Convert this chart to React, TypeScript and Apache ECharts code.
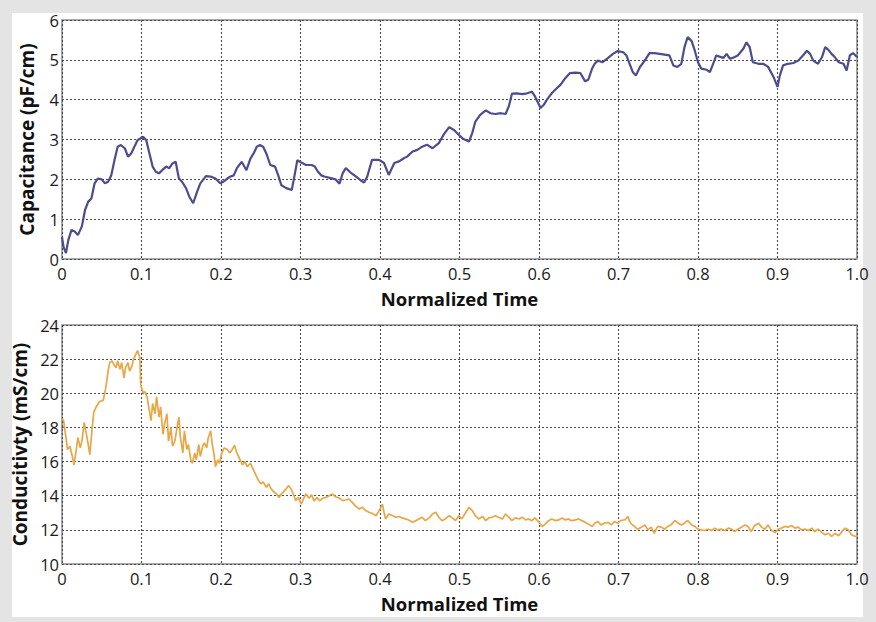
import React, { useEffect, useRef } from "react";
import * as echarts from "echarts";

const capTime = [0, 0.002, 0.005, 0.008, 0.012, 0.016, 0.02, 0.025, 0.029, 0.033, 0.037, 0.041, 0.045, 0.05, 0.054, 0.058, 0.062, 0.066, 0.07, 0.074, 0.079, 0.083, 0.087, 0.091, 0.095, 0.102, 0.106, 0.11, 0.114, 0.118, 0.122, 0.126, 0.131, 0.135, 0.139, 0.143, 0.147, 0.151, 0.156, 0.16, 0.165, 0.17, 0.174, 0.181, 0.187, 0.193, 0.199, 0.203, 0.208, 0.212, 0.216, 0.22, 0.226, 0.232, 0.237, 0.241, 0.245, 0.249, 0.253, 0.257, 0.262, 0.268, 0.272, 0.276, 0.282, 0.289, 0.293, 0.296, 0.301, 0.307, 0.314, 0.318, 0.322, 0.326, 0.33, 0.338, 0.344, 0.349, 0.353, 0.357, 0.363, 0.37, 0.376, 0.38, 0.384, 0.39, 0.399, 0.405, 0.411, 0.418, 0.424, 0.43, 0.434, 0.441, 0.447, 0.453, 0.459, 0.466, 0.474, 0.48, 0.487, 0.493, 0.499, 0.505, 0.512, 0.516, 0.52, 0.526, 0.533, 0.539, 0.545, 0.552, 0.558, 0.562, 0.566, 0.572, 0.579, 0.585, 0.591, 0.595, 0.602, 0.606, 0.61, 0.616, 0.621, 0.627, 0.633, 0.639, 0.646, 0.652, 0.658, 0.662, 0.667, 0.67, 0.674, 0.68, 0.687, 0.693, 0.699, 0.706, 0.71, 0.714, 0.718, 0.722, 0.727, 0.733, 0.739, 0.745, 0.752, 0.758, 0.764, 0.769, 0.774, 0.779, 0.783, 0.787, 0.792, 0.796, 0.8, 0.804, 0.811, 0.815, 0.819, 0.823, 0.827, 0.832, 0.836, 0.84, 0.844, 0.85, 0.857, 0.861, 0.865, 0.869, 0.876, 0.882, 0.888, 0.895, 0.9, 0.903, 0.907, 0.913, 0.92, 0.926, 0.932, 0.937, 0.941, 0.945, 0.951, 0.956, 0.96, 0.964, 0.968, 0.972, 0.977, 0.983, 0.987, 0.991, 0.995, 1.0];
const capValue = [0.55, 0.3, 0.15, 0.48, 0.73, 0.69, 0.6, 0.82, 1.23, 1.44, 1.52, 1.9, 2.02, 2.0, 1.9, 1.94, 2.1, 2.48, 2.82, 2.86, 2.78, 2.57, 2.65, 2.82, 2.98, 3.07, 2.98, 2.65, 2.32, 2.19, 2.15, 2.23, 2.32, 2.28, 2.4, 2.44, 2.02, 1.94, 1.78, 1.57, 1.4, 1.69, 1.9, 2.08, 2.07, 2.02, 1.9, 1.94, 2.02, 2.07, 2.1, 2.28, 2.44, 2.23, 2.52, 2.65, 2.82, 2.86, 2.82, 2.65, 2.36, 2.32, 2.1, 1.85, 1.78, 1.73, 2.15, 2.48, 2.42, 2.36, 2.36, 2.32, 2.19, 2.1, 2.07, 2.03, 2.0, 1.89, 2.15, 2.28, 2.17, 2.07, 1.97, 1.92, 2.07, 2.49, 2.49, 2.41, 2.11, 2.41, 2.45, 2.53, 2.57, 2.7, 2.74, 2.82, 2.87, 2.78, 2.91, 3.12, 3.31, 3.24, 3.12, 3.01, 2.95, 3.16, 3.45, 3.62, 3.73, 3.66, 3.64, 3.66, 3.64, 3.83, 4.15, 4.16, 4.14, 4.16, 4.2, 4.08, 3.79, 3.87, 4.0, 4.16, 4.26, 4.37, 4.54, 4.67, 4.68, 4.67, 4.46, 4.5, 4.79, 4.9, 4.98, 4.94, 5.05, 5.15, 5.22, 5.19, 5.11, 4.9, 4.69, 4.61, 4.82, 4.98, 5.17, 5.17, 5.15, 5.13, 5.11, 4.86, 4.82, 4.9, 5.32, 5.57, 5.47, 5.23, 4.94, 4.78, 4.75, 4.69, 4.9, 5.11, 5.08, 5.05, 5.15, 5.03, 5.05, 5.11, 5.28, 5.44, 5.32, 4.94, 4.9, 4.9, 4.83, 4.57, 4.32, 4.61, 4.86, 4.9, 4.92, 4.98, 5.11, 5.23, 5.15, 4.98, 4.9, 5.07, 5.32, 5.25, 5.15, 5.07, 4.94, 4.9, 4.73, 5.11, 5.17, 5.07];

const condTime = [0, 0.002, 0.005, 0.007, 0.01, 0.013, 0.015, 0.018, 0.02, 0.023, 0.025, 0.028, 0.03, 0.033, 0.035, 0.038, 0.04, 0.043, 0.047, 0.052, 0.055, 0.058, 0.06, 0.063, 0.065, 0.068, 0.07, 0.073, 0.075, 0.078, 0.08, 0.083, 0.085, 0.088, 0.09, 0.093, 0.095, 0.098, 0.099, 0.102, 0.104, 0.107, 0.109, 0.112, 0.114, 0.117, 0.119, 0.122, 0.124, 0.127, 0.129, 0.132, 0.134, 0.137, 0.139, 0.142, 0.144, 0.147, 0.149, 0.152, 0.154, 0.157, 0.159, 0.162, 0.164, 0.167, 0.169, 0.172, 0.174, 0.177, 0.179, 0.182, 0.184, 0.187, 0.189, 0.191, 0.193, 0.196, 0.198, 0.201, 0.204, 0.208, 0.211, 0.214, 0.217, 0.22, 0.223, 0.227, 0.23, 0.233, 0.237, 0.24, 0.243, 0.247, 0.25, 0.253, 0.257, 0.26, 0.263, 0.267, 0.27, 0.273, 0.276, 0.278, 0.282, 0.285, 0.288, 0.291, 0.294, 0.297, 0.301, 0.304, 0.307, 0.311, 0.314, 0.317, 0.321, 0.324, 0.328, 0.332, 0.336, 0.34, 0.344, 0.349, 0.353, 0.357, 0.361, 0.365, 0.37, 0.374, 0.378, 0.382, 0.386, 0.39, 0.395, 0.399, 0.403, 0.405, 0.407, 0.411, 0.416, 0.42, 0.424, 0.428, 0.432, 0.436, 0.441, 0.445, 0.449, 0.453, 0.457, 0.462, 0.466, 0.47, 0.474, 0.478, 0.482, 0.487, 0.491, 0.495, 0.499, 0.503, 0.508, 0.512, 0.516, 0.52, 0.524, 0.529, 0.533, 0.537, 0.541, 0.545, 0.549, 0.554, 0.558, 0.562, 0.566, 0.57, 0.575, 0.579, 0.583, 0.587, 0.591, 0.595, 0.6, 0.604, 0.608, 0.612, 0.616, 0.621, 0.625, 0.629, 0.633, 0.637, 0.641, 0.646, 0.65, 0.654, 0.658, 0.662, 0.667, 0.67, 0.674, 0.678, 0.682, 0.687, 0.691, 0.695, 0.699, 0.703, 0.708, 0.712, 0.714, 0.716, 0.72, 0.724, 0.729, 0.733, 0.737, 0.741, 0.745, 0.748, 0.75, 0.754, 0.758, 0.762, 0.766, 0.771, 0.775, 0.779, 0.783, 0.787, 0.792, 0.796, 0.8, 0.804, 0.808, 0.813, 0.817, 0.821, 0.825, 0.829, 0.834, 0.838, 0.842, 0.846, 0.85, 0.855, 0.859, 0.863, 0.867, 0.871, 0.876, 0.88, 0.884, 0.888, 0.892, 0.897, 0.901, 0.905, 0.909, 0.913, 0.918, 0.922, 0.926, 0.93, 0.935, 0.939, 0.943, 0.947, 0.951, 0.956, 0.96, 0.964, 0.968, 0.972, 0.977, 0.981, 0.985, 0.989, 0.993, 0.998, 1.0];
const condValue = [18.5, 18.4, 17.4, 16.7, 16.9, 16.3, 15.8, 16.7, 17.4, 16.8, 17.2, 18.3, 17.8, 17.0, 16.4, 18.0, 18.9, 19.2, 19.5, 19.6, 20.3, 21.3, 21.8, 21.9, 21.7, 21.5, 21.9, 21.4, 21.8, 20.9, 21.5, 21.8, 21.3, 21.6, 22.0, 22.3, 22.5, 22.1, 20.5, 20.0, 20.1, 19.8, 19.2, 18.4, 19.4, 18.8, 19.8, 18.6, 19.2, 17.6, 18.2, 18.8, 17.2, 18.0, 16.9, 17.2, 17.8, 18.6, 17.4, 16.5, 17.8, 16.7, 17.0, 16.1, 15.9, 16.5, 16.1, 17.0, 16.3, 16.9, 17.1, 16.8, 17.4, 17.8, 17.0, 16.5, 15.7, 16.1, 15.9, 16.5, 16.8, 16.7, 16.5, 16.7, 16.95, 16.5, 16.2, 15.8, 16.0, 15.7, 15.9, 15.6, 15.3, 14.9, 14.7, 14.8, 14.5, 14.7, 14.4, 14.2, 14.1, 13.9, 14.1, 14.2, 14.4, 14.6, 14.4, 14.1, 13.7, 13.9, 13.5, 13.85, 14.1, 13.85, 14.05, 13.7, 13.9, 13.7, 13.85, 13.9, 14.0, 14.1, 13.94, 13.86, 13.71, 13.75, 13.81, 13.61, 13.36, 13.22, 13.32, 13.13, 13.03, 12.97, 12.83, 13.13, 13.51, 13.03, 12.64, 12.93, 12.83, 12.74, 12.78, 12.7, 12.64, 12.58, 12.45, 12.54, 12.64, 12.74, 12.54, 12.7, 12.93, 13.03, 12.74, 12.54, 12.64, 12.83, 12.7, 12.54, 12.83, 12.64, 13.03, 13.32, 13.13, 12.83, 12.64, 12.78, 12.54, 12.7, 12.74, 12.83, 12.74, 12.64, 12.93, 12.74, 12.54, 12.7, 12.64, 12.74, 12.58, 12.64, 12.54, 12.7, 12.45, 12.19, 12.35, 12.54, 12.64, 12.54, 12.58, 12.7, 12.58, 12.64, 12.54, 12.58, 12.64, 12.54, 12.45, 12.35, 12.19, 12.39, 12.49, 12.29, 12.39, 12.43, 12.29, 12.49, 12.39, 12.55, 12.59, 12.78, 12.49, 12.35, 12.2, 12.04, 12.16, 12.29, 12.0, 12.16, 11.8, 12.1, 12.2, 12.16, 12.04, 12.2, 12.29, 12.55, 12.39, 12.29, 12.39, 12.55, 12.29, 12.2, 12.04, 12.0, 11.96, 12.04, 11.96, 12.1, 12.0, 12.04, 11.96, 12.1, 12.04, 11.9, 12.04, 12.16, 12.29, 12.2, 11.9, 12.24, 12.39, 12.16, 12.04, 12.29, 12.0, 11.84, 12.04, 12.1, 12.2, 12.16, 12.24, 12.1, 12.16, 12.0, 12.04, 11.96, 12.1, 11.9, 12.04, 11.84, 11.71, 11.8, 11.61, 11.8, 11.65, 11.9, 12.1, 12.0, 11.71, 11.61, 11.65];

const xTicks = { min: 0, max: 1, interval: 0.1 };
const capAxis = { min: 0, max: 6, interval: 1 };
const condAxis = { min: 10, max: 24, interval: 2 };

const FONT = "Open Sans";

function zip(t: number[], v: number[]) {
  const n = Math.min(t.length, v.length);
  const out: number[][] = [];
  for (let i = 0; i < n; i++) out.push([t[i], v[i]]);
  return out;
}

export default function App() {
  const ref = useRef<HTMLDivElement>(null);
  useEffect(() => {
    if (!ref.current) return;
    const chart = echarts.init(ref.current, null, { renderer: "svg" });
    const gridLine = { show: true, lineStyle: { color: "#4a4a4a", type: [2, 2] as any, width: 1.1 } };
    const xAxisBase = (gi: number) => ({
      type: "value" as const,
      gridIndex: gi,
      min: xTicks.min,
      max: xTicks.max,
      interval: xTicks.interval,
      name: "Normalized Time",
      nameLocation: "middle" as const,
      nameGap: 29,
      nameTextStyle: { fontFamily: FONT, fontWeight: "bold" as const, fontSize: 18.5, color: "#111", lineHeight: 20 },
      axisLine: { show: false },
      axisTick: { show: false },
      axisLabel: {
        fontFamily: FONT,
        fontSize: 16.5,
        color: "#1a1a1a",
        margin: 6,
        lineHeight: 17,
        formatter: (v: number) => (v === 0 ? "0" : v.toFixed(1)),
      },
      splitLine: gridLine,
    });
    const yAxisBase = (gi: number, ax: any, name: string) => ({
      type: "value" as const,
      gridIndex: gi,
      min: ax.min,
      max: ax.max,
      interval: ax.interval,
      name,
      nameLocation: "middle" as const,
      nameGap: 26,
      nameTextStyle: { fontFamily: FONT, fontWeight: "bold" as const, fontSize: 19, color: "#111" },
      axisLine: { show: false },
      axisTick: { show: false },
      axisLabel: { fontFamily: FONT, fontSize: 16.5, color: "#1a1a1a", margin: 3 },
      splitLine: gridLine,
    });
    chart.setOption({
      animation: false,
      backgroundColor: "#e4e4e4",
      graphic: [
        { type: "rect", shape: { x: 12, y: 13, width: 851, height: 604 }, style: { fill: "#ffffff" }, z: -10 },
      ],
      grid: [
        { left: 62, top: 20, width: 795, height: 239, show: true, borderColor: "#8c8c8c", borderWidth: 1.5, backgroundColor: "#fff" },
        { left: 62, top: 325, width: 795, height: 239, show: true, borderColor: "#8c8c8c", borderWidth: 1.5, backgroundColor: "#fff" },
      ],
      xAxis: [xAxisBase(0), xAxisBase(1)],
      yAxis: [
        yAxisBase(0, capAxis, "Capacitance (pF/cm)"),
        yAxisBase(1, condAxis, "Conducitivty (mS/cm)"),
      ],
      series: [
        {
          type: "line",
          xAxisIndex: 0,
          yAxisIndex: 0,
          data: zip(capTime, capValue),
          showSymbol: false,
          lineStyle: { color: "#4c4c8e", width: 2.2 },
          z: 5,
        },
        {
          type: "line",
          xAxisIndex: 1,
          yAxisIndex: 1,
          data: zip(condTime, condValue),
          showSymbol: false,
          lineStyle: { color: "#e9a646", width: 1.7 },
          z: 5,
        },
      ],
    });
    return () => chart.dispose();
  }, []);
  return (
    <div
      ref={ref}
      style={{ position: "fixed", left: 0, top: 0, width: 876, height: 622 }}
    />
  );
}
